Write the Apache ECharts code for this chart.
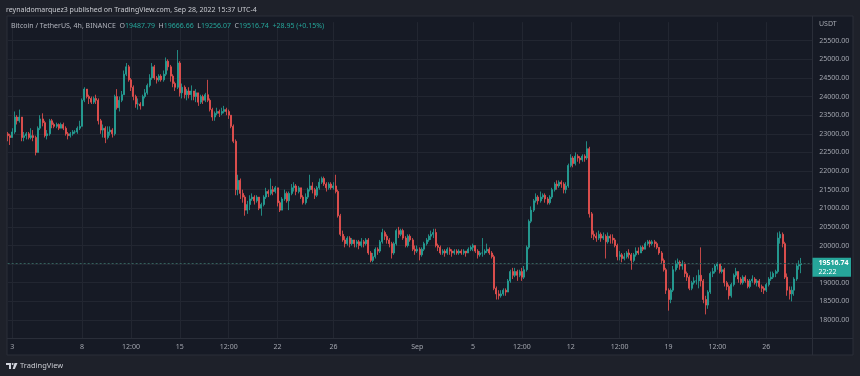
<!DOCTYPE html>
<html>
<head>
<meta charset="utf-8">
<title>BTCUSDT 4h</title>
<script src="https://cdn.jsdelivr.net/npm/echarts@6.0.0/dist/echarts.min.js"></script>
<style>
  html, body { margin: 0; padding: 0; background: #1e212a; }
  #chart { width: 860px; height: 376px; }
</style>
</head>
<body>
<div id="chart"></div>
<script>
// 4h candles, first one is Aug 2 16:00 (chart time), open of each = previous close
const firstOpen = 23000
const closes = [
  22950, 22900,
  23050, 23450, 23350, 23450, 22900, 22950,
  23000, 22900, 22950, 22900, 22500, 23150,
  23400, 23300, 22950, 23000, 23350, 23250,
  23200, 23250, 23150, 23250, 23150, 23000,
  22950, 23000, 23050, 23050, 23150, 23200,
  23900, 24200, 24000, 23950, 23850, 23950,
  23900, 23350, 23100, 23150, 22900, 23050,
  23100, 23000, 24000, 23700, 23900, 24050,
  24600, 24800, 24450, 24250, 24000, 23800,
  23800, 23750, 24000, 24100, 24300, 24500,
  24800, 24500, 24450, 24550, 24450, 24600,
  24950, 24800, 24550, 24350, 24250, 24900,
  24100, 24250, 24050, 24150, 24050, 24150,
  24000, 24100, 23850, 24000, 23900, 24050,
  23900, 23650, 23450, 23550, 23600, 23550,
  23600, 23650, 23600, 23500, 23200, 22800,
  21500, 21750, 21400, 21300, 20950, 21100,
  21250, 21300, 21200, 21300, 21000, 21100,
  21300, 21450, 21400, 21500, 21450, 21550,
  21150, 20950, 21250, 21400, 21200, 21400,
  21550, 21600, 21450, 21550, 21300, 21150,
  21300, 21500, 21600, 21500, 21350, 21550,
  21700, 21800, 21650, 21550, 21650, 21550,
  21600, 21450, 20800, 20300, 20150, 20050,
  20200, 20050, 20150, 20050, 20100, 20000,
  20100, 20050, 20150, 19800, 19600, 19700,
  19900, 19850, 20100, 20350, 20250, 20150,
  20050, 19800, 20050, 20400, 20300, 20400,
  20200, 20000, 20250, 20150, 19900, 19850,
  19900, 19750, 19900, 20050, 20150, 20250,
  20300, 20350, 20000, 19950, 19800, 19850,
  19800, 19900, 19850, 19800, 19850, 19800,
  19850, 19800, 19850, 19800, 19900, 19950,
  20000, 19850, 19750, 19800, 19800, 19850,
  19900, 19800, 19700, 18850, 18700, 18650,
  18700, 18800, 18750, 19050, 19300, 19200,
  19300, 19200, 19300, 19150, 19350, 19950,
  20650, 20950, 21200, 21300, 21200, 21300,
  21350, 21250, 21150, 21300, 21500, 21650,
  21600, 21700, 21650, 21500, 21600, 22150,
  22350, 22200, 22400, 22350, 22300, 22400,
  22350, 22600, 20850, 20300, 20250, 20200,
  20300, 20200, 20250, 20100, 20250, 20200,
  20150, 20000, 19700, 19750, 19650, 19700,
  19800, 19750, 19600, 19750, 19850, 19800,
  19950, 19900, 20050, 20100, 20050, 20100,
  20050, 19950, 19800, 19600, 19350, 18800,
  18550, 18800, 19350, 19500, 19550, 19450,
  19500, 19250, 19150, 18850, 19000, 19050,
  19050, 19200, 19050, 18550, 18400, 18750,
  19250, 19300, 19450, 19500, 19300, 19350,
  19000, 18900, 18650, 18950, 19200, 19300,
  19100, 19000, 19150, 19050, 18900, 19050,
  19100, 19000, 19050, 18900, 18850, 18800,
  18950, 19100, 19150, 19250, 19300, 20200,
  20300, 20050, 19150, 18800, 18700, 18800,
  19100, 19450, 19487.79, 19516.74
]
const highs = [
  23050, 23000,
  23150, 23600, 23500, 23650, 23450, 23050,
  23050, 23050, 23150, 23100, 22950, 23200,
  23500, 23550, 23350, 23100, 23400, 23400,
  23300, 23300, 23280, 23300, 23300, 23200,
  23050, 23050, 23100, 23100, 23200, 23350,
  23950, 24250, 24150, 24050, 24000, 24000,
  24050, 23950, 23400, 23250, 23200, 23200,
  23200, 23150, 24050, 24200, 24000, 24150,
  24700, 24900, 24850, 24500, 24300, 24050,
  23950, 23850, 24050, 24200, 24350, 24600,
  24900, 24850, 24550, 24600, 24600, 24700,
  25050, 25000, 24850, 24600, 24400, 25250,
  24950, 24350, 24300, 24200, 24250, 24300,
  24150, 24200, 24100, 24050, 24050, 24100,
  24450, 23950, 23700, 23600, 23700, 23650,
  23700, 23750, 23700, 23650, 23500, 23250,
  22850, 21900, 21800, 21500, 21350, 21200,
  21350, 21400, 21350, 21350, 21300, 21150,
  21350, 21550, 21500, 21800, 21600, 21600,
  21550, 21200, 21300, 21500, 21450, 21450,
  21650, 21700, 21650, 21600, 21550, 21350,
  21400, 21550, 21900, 21700, 21550, 21600,
  21800, 21850, 21850, 21700, 21700, 21700,
  21700, 21900, 21500, 20850, 20400, 20250,
  20250, 20250, 20200, 20150, 20150, 20150,
  20200, 20150, 20200, 20200, 19850, 19800,
  19950, 19950, 20150, 20450, 20400, 20300,
  20200, 20100, 20100, 20450, 20500, 20450,
  20450, 20250, 20300, 20300, 20200, 20000,
  20000, 19950, 19950, 20100, 20200, 20300,
  20400, 20450, 20450, 20050, 20000, 19900,
  19900, 19950, 19950, 19900, 19900, 19900,
  19900, 19900, 19900, 19850, 19950, 20000,
  20050, 20000, 19900, 19850, 20200, 19900,
  20050, 19950, 19850, 19750, 18900, 18800,
  18800, 18850, 18850, 19100, 19350, 19400,
  19400, 19350, 19350, 19400, 19450, 20000,
  20700, 21050, 21250, 21400, 21350, 21450,
  21400, 21400, 21300, 21350, 21550, 21700,
  21750, 21750, 21750, 21700, 21700, 22200,
  22450, 22400, 22500, 22450, 22400, 22450,
  22450, 22800, 22650, 20900, 20400, 20350,
  20400, 20350, 20350, 20300, 20350, 20300,
  20300, 20200, 20050, 19850, 19800, 19800,
  19850, 19900, 19800, 19800, 19950, 19950,
  20000, 20000, 20100, 20150, 20150, 20150,
  20150, 20100, 19950, 19850, 19650, 19400,
  18850, 18850, 19450, 19600, 19650, 19600,
  19600, 19550, 19300, 19200, 19050, 19150,
  19200, 19350, 19950, 19100, 18650, 18800,
  19300, 19400, 19500, 19550, 19500, 19450,
  19400, 19050, 18950, 19000, 19250, 19400,
  19300, 19150, 19200, 19200, 19100, 19100,
  19200, 19150, 19100, 19100, 18950, 18900,
  19000, 19150, 19300, 19300, 19350, 20350,
  20380, 20350, 20100, 19250, 18900, 18900,
  19150, 19500, 19600, 19666.66
]
const lows = [
  22800, 22700,
  22900, 23000, 23250, 23300, 22800, 22800,
  22850, 22850, 22850, 22800, 22420, 22500,
  23100, 23200, 22900, 22850, 22950, 23150,
  23150, 23150, 23100, 23150, 23100, 22950,
  22850, 22900, 22950, 23000, 23000, 23100,
  23200, 23850, 23950, 23800, 23800, 23800,
  23800, 23250, 23000, 22900, 22750, 22850,
  22950, 22900, 22950, 23650, 23600, 23850,
  24050, 24550, 24400, 24150, 23900, 23700,
  23650, 23650, 23750, 23950, 24050, 24250,
  24450, 24450, 24350, 24400, 24400, 24400,
  24550, 24700, 24400, 24250, 24150, 24200,
  24000, 23950, 23950, 23900, 23950, 23900,
  23900, 23850, 23750, 23800, 23800, 23850,
  23850, 23600, 23350, 23350, 23500, 23450,
  23500, 23550, 23500, 23400, 23150, 22750,
  21350, 21350, 21250, 21150, 20800, 20850,
  20950, 21200, 21100, 21150, 20950, 20800,
  21050, 21250, 21300, 21350, 21350, 21400,
  21050, 20900, 20950, 21200, 21150, 20950,
  21350, 21450, 21350, 21400, 21250, 21100,
  21100, 21250, 21450, 21400, 21250, 21300,
  21500, 21650, 21600, 21450, 21500, 21500,
  21500, 21400, 20750, 20250, 20100, 19950,
  20000, 19950, 20000, 19950, 19950, 19900,
  19950, 19950, 20000, 19750, 19550, 19550,
  19650, 19750, 19800, 20050, 20150, 20050,
  19950, 19650, 19750, 20000, 20200, 20250,
  20150, 19950, 19950, 20100, 19850, 19750,
  19800, 19600, 19700, 19850, 20000, 20100,
  20150, 20200, 19950, 19850, 19750, 19750,
  19700, 19750, 19750, 19700, 19750, 19750,
  19750, 19750, 19750, 19700, 19800, 19850,
  19850, 19800, 19650, 19700, 19700, 19750,
  19800, 19750, 19650, 18800, 18550, 18550,
  18600, 18650, 18650, 18750, 19000, 19100,
  19150, 19050, 19150, 19050, 19100, 19300,
  19900, 20600, 20900, 21150, 21100, 21150,
  21250, 21150, 21100, 21100, 21250, 21450,
  21500, 21550, 21550, 21400, 21400, 21550,
  22100, 22100, 22150, 22250, 22200, 22250,
  22250, 22300, 20750, 20200, 20150, 20100,
  20150, 20100, 20150, 19650, 20050, 20050,
  20050, 19950, 19600, 19600, 19550, 19600,
  19650, 19650, 19350, 19550, 19700, 19750,
  19800, 19850, 19900, 20000, 19950, 20000,
  19950, 19900, 19750, 19500, 19300, 18700,
  18250, 18450, 18750, 19300, 19400, 19350,
  19350, 19150, 19050, 18800, 18800, 18950,
  18950, 18850, 18900, 18450, 18150, 18300,
  18700, 19150, 19250, 19350, 19250, 19250,
  18900, 18800, 18550, 18600, 18900, 19150,
  19000, 18950, 18950, 19000, 18850, 18850,
  19000, 18950, 18900, 18850, 18750, 18700,
  18750, 18900, 19050, 19100, 19150, 19250,
  20050, 19950, 19100, 18650, 18550, 18500,
  18650, 19050, 19350, 19256.07
]
// time-scale labels: [bar time, text]
const tickLabels = [
  ['2022-08-03 00:00', '3'],
  ['2022-08-08 00:00', '8'],
  ['2022-08-11 12:00', '12:00'],
  ['2022-08-15 00:00', '15'],
  ['2022-08-18 12:00', '12:00'],
  ['2022-08-22 00:00', '22'],
  ['2022-08-26 00:00', '26'],
  ['2022-09-01 00:00', 'Sep'],
  ['2022-09-05 00:00', '5'],
  ['2022-09-08 12:00', '12:00'],
  ['2022-09-12 00:00', '12'],
  ['2022-09-15 12:00', '12:00'],
  ['2022-09-19 00:00', '19'],
  ['2022-09-22 12:00', '12:00'],
  ['2022-09-26 00:00', '26'],
]
const lastPrice = 19516.74

const UP = '#26a69a'
const DOWN = '#ef5350'
const GRID = '#222631'
const TEXT = '#a3a6af'
const FONT = '"Noto Sans", sans-serif'

// bar times, plus a few empty slots on the right like TradingView
const startTime = Date.UTC(2022, 7, 2, 16)
const emptyBars = 5
const categories = []
for (let i = 0; i < closes.length + emptyBars; i++) {
  const d = new Date(startTime + i * 4 * 3600 * 1000)
  categories.push(d.toISOString().slice(0, 16).replace('T', ' '))
}
const labelMap = new Map(tickLabels)
const isTick = (idx, val) => labelMap.has(val)

const candles = closes.map((c, i) => [i ? closes[i - 1] : firstOpen, c, lows[i], highs[i]])

// y split line colours: hide the min and max lines
const yMin = 17500, yMax = 26000, yStep = 500
const ySplitColors = []
for (let v = yMin; v <= yMax; v += yStep) {
  ySplitColors.push(v === yMin || v === yMax ? 'rgba(0,0,0,0)' : GRID)
}

const chart = echarts.init(document.getElementById('chart'), null, { renderer: 'canvas' })

const option = {
  animation: false,
  backgroundColor: '#1e212a',
  grid: { left: 7.65, right: 47.2, top: 22.1, bottom: 37.4, containLabel: false },
  xAxis: {
    type: 'category',
    data: categories,
    boundaryGap: false,
    axisLine: { show: false },
    axisTick: { show: false },
    axisLabel: {
      interval: isTick,
      formatter: (val) => labelMap.get(val) || '',
      color: TEXT,
      fontFamily: FONT,
      fontSize: 7,
      margin: 5,
    },
    splitLine: { show: true, interval: isTick, lineStyle: { color: GRID, width: 1 } },
  },
  yAxis: {
    type: 'value',
    position: 'right',
    min: yMin,
    max: yMax,
    interval: yStep,
    axisLine: { show: false },
    axisTick: { show: false },
    axisLabel: {
      showMinLabel: false,
      showMaxLabel: false,
      formatter: (v) => v.toFixed(2),
      color: TEXT,
      fontFamily: FONT,
      fontSize: 7,
      margin: 6.5,
    },
    splitLine: { show: true, lineStyle: { color: ySplitColors, width: 1 } },
  },
  series: [{
    type: 'candlestick',
    data: candles,
    barWidth: 1.5,
    itemStyle: {
      color: UP,
      color0: DOWN,
      borderColor: UP,
      borderColor0: DOWN,
      borderWidth: 0.8,
    },
    markLine: {
      silent: true,
      symbol: ['none', 'none'],
      label: { show: false },
      lineStyle: { color: '#34605c', type: [2, 2], width: 1 },
      data: [{ yAxis: lastPrice }],
    },
  }],
  graphic: [
    // chart panel
    { type: 'rect', z: -10, silent: true,
      shape: { x: 7, y: 16, width: 846, height: 339 },
      style: { fill: '#161a25', stroke: '#2a2e39', lineWidth: 1 } },
    // price scale / time scale separators
    { type: 'line', z: 50, silent: true,
      shape: { x1: 812.5, y1: 16, x2: 812.5, y2: 355 },
      style: { stroke: '#2a2e39', lineWidth: 1 } },
    { type: 'line', z: 50, silent: true,
      shape: { x1: 7, y1: 338.5, x2: 853, y2: 338.5 },
      style: { stroke: '#2a2e39', lineWidth: 1 } },
    // publish line
    { type: 'text', z: 60, silent: true,
      style: { x: 6, y: 9.5, verticalAlign: 'middle', fill: '#c9cbd1', font: '7px ' + FONT,
        text: 'reynaldomarquez3 published on TradingView.com, Sep 28, 2022 15:37 UTC-4' } },
    // legend
    { type: 'text', z: 60, silent: true,
      style: { x: 11, y: 25.7, verticalAlign: 'middle', font: '7px ' + FONT, fill: '#b2b5be',
        text: '{n|Bitcoin / TetherUS, 4h, BINANCE}  {k|O}{v|19487.79}  {k|H}{v|19666.66}  {k|L}{v|19256.07}  {k|C}{v|19516.74}  {v|+28.95 (+0.15%)}',
        rich: {
          n: { fill: '#b2b5be', font: '7px ' + FONT },
          k: { fill: '#b2b5be', font: '7px ' + FONT },
          v: { fill: UP, font: '7px ' + FONT },
        } } },
    { type: 'text', z: 60, silent: true,
      style: { x: 819, y: 24, verticalAlign: 'middle', fill: TEXT, font: '7px ' + FONT, text: 'USDT' } },
    // last price label
    { type: 'rect', z: 60, silent: true,
      shape: { x: 812.5, y: 257.7, width: 38.5, height: 19 },
      style: { fill: UP } },
    { type: 'text', z: 61, silent: true,
      style: { x: 818.5, y: 263.3, verticalAlign: 'middle', fill: '#ffffff', font: 'bold 7px ' + FONT, text: '19516.74' } },
    { type: 'text', z: 61, silent: true,
      style: { x: 818.5, y: 271.7, verticalAlign: 'middle', fill: '#ffffff', font: '7px ' + FONT, text: '22:22' } },
    // footer logo
    { type: 'polygon', z: 60, silent: true,
      shape: { points: [[6, 363], [11, 363], [11, 369], [9, 369], [9, 365], [6, 365]] },
      style: { fill: '#d1d4dc' } },
    { type: 'circle', z: 60, silent: true,
      shape: { cx: 12.6, cy: 364, r: 1 },
      style: { fill: '#d1d4dc' } },
    { type: 'polygon', z: 60, silent: true,
      shape: { points: [[14.5, 363], [17.5, 363], [14.8, 369], [12.6, 369]] },
      style: { fill: '#d1d4dc' } },
    { type: 'text', z: 60, silent: true,
      style: { x: 20, y: 366, verticalAlign: 'middle', fill: '#c9cbd1', font: '7.5px ' + FONT, text: 'TradingView' } },
  ],
}

chart.setOption(option)
</script>
</body>
</html>
